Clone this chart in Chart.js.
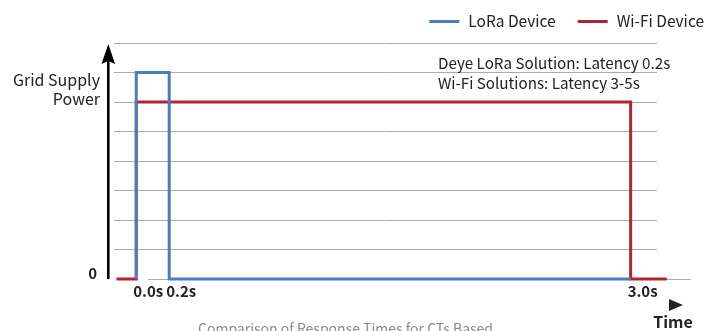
<!DOCTYPE html>
<html>
<head>
<meta charset="utf-8">
<script src="https://cdn.jsdelivr.net/npm/chart.js@4.4.1/dist/chart.umd.min.js"></script>
<style>
  html, body { margin: 0; padding: 0; background: #ffffff; }
  #wrap { width: 722px; height: 331px; position: relative; overflow: hidden; }
  canvas { display: block; }
</style>
</head>
<body>
<div id="wrap"><canvas id="c" width="722" height="331"></canvas></div>
<script>
// ---- data ----
const seriesNames = ['LoRa Device', 'Wi-Fi Device'];
const loraTime  = [0, 0, 0.2, 0.2, 3.0];
const loraPower = [0, 7, 7, 0, 0];
const wifiTime  = [-0.12, 0, 0, 3.0, 3.0, 3.22];
const wifiPower = [0, 0, 6, 6, 0, 0];
const timeTicks = [0, 0.2, 3.0];
const timeTickLabels = ['0.0s', '0.2s', '3.0s'];
const powerTicks = [0, 1, 2, 3, 4, 5, 6, 7, 8];
const powerTickLabels = ['0', '', '', '', '', '', '', '', ''];
const annotationLines = ['Deye LoRa Solution: Latency 0.2s', 'Wi-Fi Solutions: Latency 3-5s'];
const yTitleLines = ['Grid Supply', 'Power'];
const xTitle = 'Time';
const captionText = 'Comparison of Response Times for CTs Based';

const FONT = '"Noto Sans CJK SC", "Noto Sans", sans-serif';
const BLUE = '#4a7ec3';
const RED = '#b3252d';
const GRID = '#aaaaaa';
const TEXT = '#222222';

function zip(xs, ys) { return xs.map((x, i) => ({ x: x, y: ys[i] })); }

const decorations = {
  id: 'decorations',
  beforeDatasetsDraw(chart) {
    const ctx = chart.ctx;
    const ca = chart.chartArea;
    const y0 = chart.scales.y.getPixelForValue(0);
    ctx.save();
    ctx.strokeStyle = GRID;
    ctx.lineWidth = 1;
    ctx.beginPath();
    ctx.moveTo(ca.left + 34, y0 + 0.5);
    ctx.lineTo(ca.right + 34, y0 + 0.5);
    ctx.stroke();
    ctx.restore();
  },
  afterDraw(chart) {
    const ctx = chart.ctx;
    const ca = chart.chartArea;
    const y0 = chart.scales.y.getPixelForValue(0);
    ctx.save();
    // vertical axis with arrow
    const ax = ca.left - 5.7;
    ctx.strokeStyle = '#000';
    ctx.lineWidth = 2.6;
    ctx.beginPath();
    ctx.moveTo(ax, y0);
    ctx.lineTo(ax, ca.top + 15);
    ctx.stroke();
    ctx.fillStyle = '#000';
    ctx.beginPath();
    ctx.moveTo(ax, ca.top + 1);
    ctx.lineTo(ax - 6.8, ca.top + 21);
    ctx.lineTo(ax, ca.top + 18);
    ctx.lineTo(ax + 6.8, ca.top + 21);
    ctx.closePath();
    ctx.fill();

    // y title
    ctx.fillStyle = TEXT;
    ctx.font = '16px ' + FONT;
    ctx.textAlign = 'right';
    ctx.textBaseline = 'middle';
    ctx.fillText(yTitleLines[0], 100, 80);
    ctx.fillText(yTitleLines[1], 100, 99);

    // annotations
    ctx.font = '15.2px ' + FONT;
    ctx.textAlign = 'left';
    ctx.fillText(annotationLines[0], 438, 63);
    ctx.fillText(annotationLines[1], 438, 83);

    // x arrow + title
    ctx.beginPath();
    ctx.moveTo(669, 299);
    ctx.lineTo(683, 305);
    ctx.lineTo(669, 311);
    ctx.closePath();
    ctx.fill();
    ctx.font = 'bold 16px ' + FONT;
    ctx.textAlign = 'center';
    ctx.textBaseline = 'alphabetic';
    ctx.fillText(xTitle, 673, 328);

    // caption (cut off at bottom)
    ctx.fillStyle = '#8a8a8a';
    ctx.font = '14px ' + FONT;
    ctx.textAlign = 'left';
    ctx.fillText(captionText, 198, 334);

    // legend
    ctx.font = '15.5px ' + FONT;
    ctx.textBaseline = 'middle';
    const ds = chart.data.datasets;
    let xr = 704;
    const items = [];
    for (let i = ds.length - 1; i >= 0; i--) {
      const tw = ctx.measureText(ds[i].label).width;
      const tx = xr - tw;
      const lx = tx - 39;
      items.push({ i: i, tx: tx, lx: lx });
      xr = lx - 22;
    }
    items.forEach(it => {
      ctx.strokeStyle = ds[it.i].borderColor;
      ctx.lineWidth = 3;
      ctx.beginPath();
      ctx.moveTo(it.lx, 21.5);
      ctx.lineTo(it.lx + 30, 21.5);
      ctx.stroke();
      ctx.fillStyle = TEXT;
      ctx.fillText(ds[it.i].label, it.tx, 21);
    });
    ctx.restore();
  }
};

new Chart(document.getElementById('c'), {
  type: 'line',
  data: {
    datasets: [
      { label: seriesNames[0], data: zip(loraTime, loraPower), borderColor: BLUE, backgroundColor: BLUE },
      { label: seriesNames[1], data: zip(wifiTime, wifiPower), borderColor: RED, backgroundColor: RED }
    ]
  },
  options: {
    responsive: false,
    devicePixelRatio: 1,
    animation: false,
    events: [],
    layout: { padding: { left: 0, right: 65, top: 43, bottom: 0 } },
    elements: {
      line: { borderWidth: 3, tension: 0, fill: false, borderJoinStyle: 'miter', borderCapStyle: 'butt' },
      point: { radius: 0, hoverRadius: 0 }
    },
    datasets: { line: { clip: false } },
    plugins: { legend: { display: false }, title: { display: false }, tooltip: { enabled: false } },
    scales: {
      x: {
        type: 'linear',
        min: -0.135,
        max: 3.16,
        afterBuildTicks: (s) => { s.ticks = timeTicks.map(v => ({ value: v })); },
        afterFit: (s) => { s.height = 52; },
        grid: { display: false, drawTicks: false },
        border: { display: false },
        ticks: {
          autoSkip: false, maxRotation: 0, minRotation: 0, align: 'start', padding: 3, labelOffset: -3,
          color: TEXT, font: { family: FONT, size: 15, weight: 'bold' },
          callback: (v, i) => timeTickLabels[i]
        }
      },
      y: {
        type: 'linear',
        min: 0,
        max: 8,
        afterBuildTicks: (s) => { s.ticks = powerTicks.map(v => ({ value: v })); },
        afterFit: (s) => { s.width = 114; },
        grid: { color: (c) => (c.tick && c.tick.value === 0) ? 'rgba(0,0,0,0)' : GRID, lineWidth: 1, drawTicks: false },
        border: { display: false },
        ticks: {
          autoSkip: false, padding: 17, labelOffset: -6, color: TEXT, font: { family: FONT, size: 15, weight: 'bold' },
          callback: (v, i) => powerTickLabels[i]
        }
      }
    }
  },
  plugins: [decorations]
});
</script>
</body>
</html>
